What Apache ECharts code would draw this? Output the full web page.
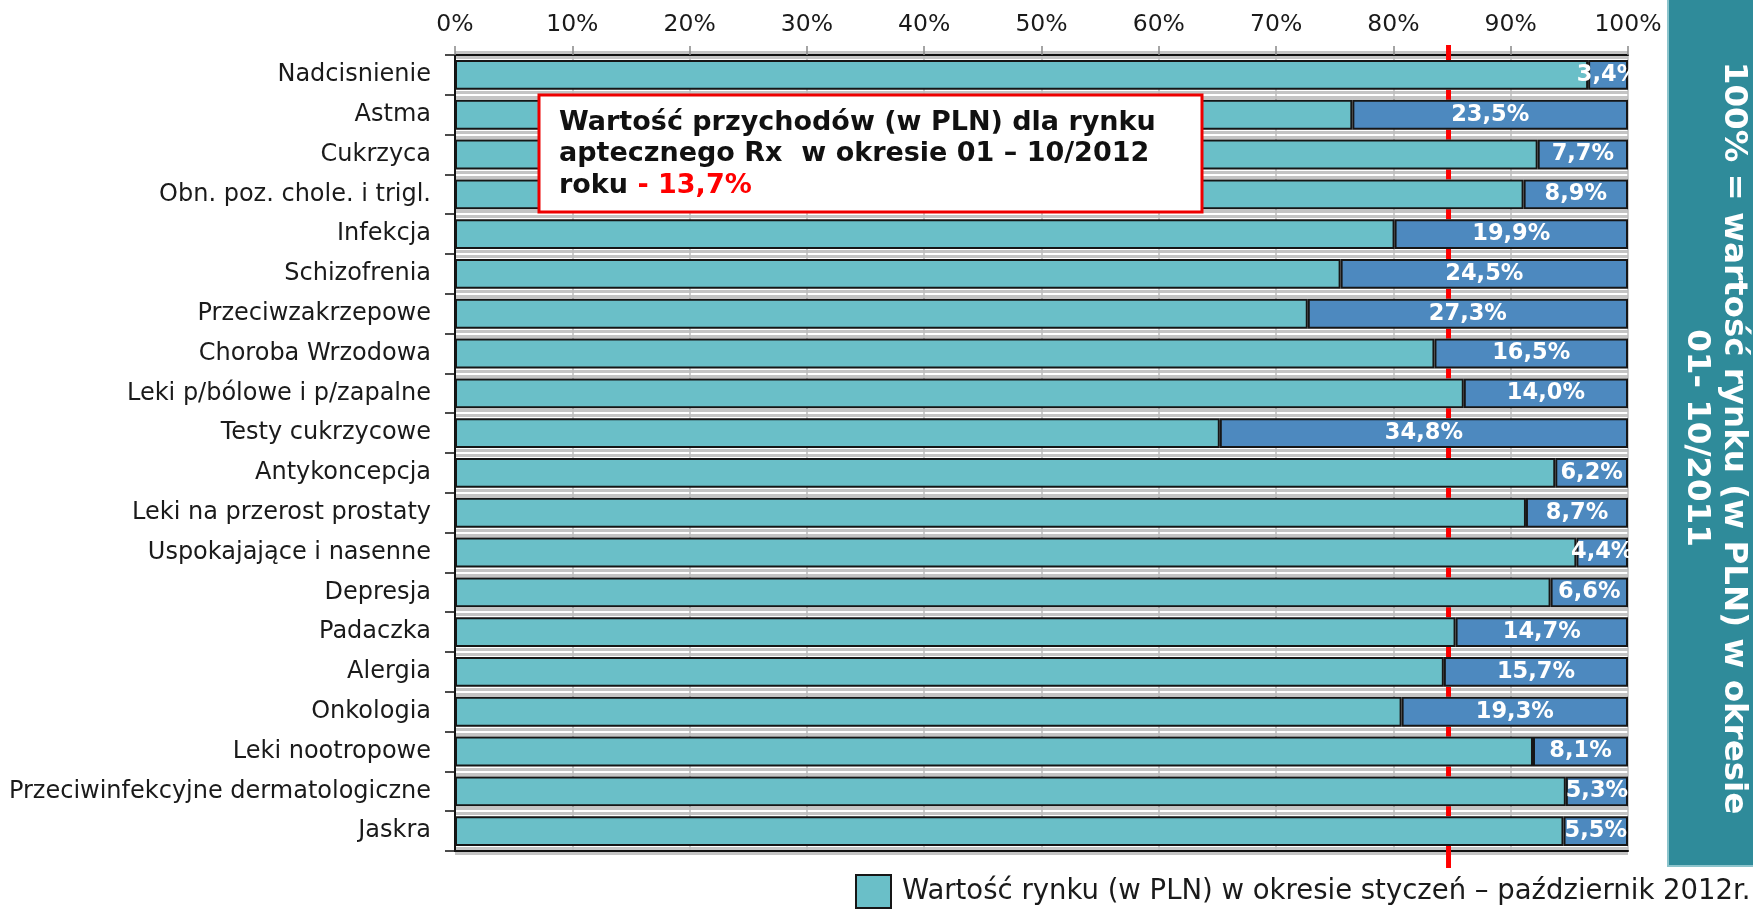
<!DOCTYPE html>
<html>
<head>
<meta charset="utf-8">
<script src="https://cdn.jsdelivr.net/npm/echarts@6/dist/echarts.min.js"></script>
<style>
html,body{margin:0;padding:0;background:#fff;}
#c{width:1753px;height:910px;}
</style>
</head>
<body>
<div id="c"></div>
<script>
const categories = ['Nadcisnienie','Astma','Cukrzyca','Obn. poz. chole. i trigl.','Infekcja','Schizofrenia','Przeciwzakrzepowe','Choroba Wrzodowa','Leki p/bólowe i p/zapalne','Testy cukrzycowe','Antykoncepcja','Leki na przerost prostaty','Uspokajające i nasenne','Depresja','Padaczka','Alergia','Onkologia','Leki nootropowe','Przeciwinfekcyjne dermatologiczne','Jaskra'];
const value2012 = [96.6,76.5,92.3,91.1,80.1,75.5,72.7,83.5,86.0,65.2,93.8,91.3,95.6,93.4,85.3,84.3,80.7,91.9,94.7,94.5];
const decline = [3.4,23.5,7.7,8.9,19.9,24.5,27.3,16.5,14.0,34.8,6.2,8.7,4.4,6.6,14.7,15.7,19.3,8.1,5.3,5.5];
const xTicks = [0,10,20,30,40,50,60,70,80,90,100];
const thresholdLine = 84.7;
const legendName = 'Wartość rynku (w PLN) w okresie styczeń – październik 2012r.';

const FONT = 'DejaVu Sans';
const BAR_GAP = 0.25;
const chart = echarts.init(document.getElementById('c'), null, {renderer:'canvas'});

const catAxisBase = {
  type:'category', data:categories, inverse:true
};

// red reference line: visible only in the gaps between bars (it sits behind them)
const thresholdData = categories.map(c => [thresholdLine, c]);

const option = {
  animation:false,
  textStyle:{fontFamily:FONT},
  grid:{left:455, top:55, width:1173, height:796, containLabel:false},
  legend:{
    left:850, top:869, itemWidth:35, itemHeight:33, icon:'rect',
    data:[legendName],
    textStyle:{fontFamily:FONT, fontSize:27.5, color:'#1a1a1a', padding:[0,0,0,6]}
  },
  xAxis:[{
    type:'value', position:'top', min:xTicks[0], max:xTicks[xTicks.length-1], interval:10,
    axisLine:{show:true, lineStyle:{color:'#111', width:2}},
    axisTick:{show:true, length:9, lineStyle:{color:'#888', width:1.5}},
    axisLabel:{formatter:'{value}%', fontFamily:FONT, fontSize:23.5, color:'#1a1a1a', margin:18},
    splitLine:{show:true, lineStyle:{color:'#bdbdbd', width:1.5}}
  },{
    type:'value', position:'bottom', min:0, max:100, interval:10,
    axisLine:{show:true, onZero:false, lineStyle:{color:'#111', width:2}},
    axisTick:{show:false}, axisLabel:{show:false}, splitLine:{show:false}
  }],
  yAxis:[Object.assign({}, catAxisBase, {
    position:'left',
    axisLine:{show:true, lineStyle:{color:'#111', width:2}},
    axisTick:{show:true, length:10, lineStyle:{color:'#111', width:1.5}},
    axisLabel:{fontFamily:FONT, fontSize:24, color:'#1a1a1a', margin:24},
    splitLine:{show:true, lineStyle:{color:'#c4c4c4', width:8}}
  }), Object.assign({}, catAxisBase, {
    position:'right',
    axisLine:{show:true, lineStyle:{color:'#111', width:2}},
    axisTick:{show:false}, axisLabel:{show:false},
    splitLine:{show:true, lineStyle:{color:'#ffffff', width:2}}
  })],
  series:[{
    name:'Próg', type:'custom', z:1, silent:true, clip:false,
    data:thresholdData,
    encode:{x:0, y:1},
    renderItem:function(params, api){
      const cs = params.coordSys;
      const p = api.coord([api.value(0), api.value(1)]);
      const band = api.size([0, 1])[1];
      const halfBar = band * (1 - BAR_GAP) / 2;
      const children = [];
      let y1 = p[1] + halfBar;
      let y2 = p[1] + band - halfBar;
      if (params.dataIndex === categories.length - 1) y2 = cs.y + cs.height + 17;
      children.push({type:'line', shape:{x1:p[0], y1:y1, x2:p[0], y2:y2}, style:{stroke:'#ff0000', lineWidth:5}});
      if (params.dataIndex === 0) {
        children.push({type:'line', shape:{x1:p[0], y1:cs.y - 10, x2:p[0], y2:p[1] - halfBar}, style:{stroke:'#ff0000', lineWidth:5}});
      }
      return {type:'group', children:children};
    }
  },{
    name:legendName, type:'bar', stack:'s', data:value2012, z:3,
    barCategoryGap:(BAR_GAP*100)+'%',
    itemStyle:{color:'#6abfc8', borderColor:'#161616', borderWidth:2}
  },{
    name:'Spadek', type:'bar', stack:'s', data:decline, z:3,
    barCategoryGap:(BAR_GAP*100)+'%',
    itemStyle:{color:'#4d89bf', borderColor:'#161616', borderWidth:2},
    label:{show:true, position:'inside', color:'#fff', fontFamily:FONT, fontWeight:'bold', fontSize:22.5,
      formatter:p => p.value.toFixed(1).replace('.', ',') + '%'}
  }],
  graphic:[
    {type:'rect', z:10, shape:{x:539, y:95, width:663, height:117},
      style:{fill:'#fff', stroke:'#ee0000', lineWidth:3}},
    {type:'text', z:11, x:559, y:107,
      style:{
        text:'{b|Wartość przychodów (w PLN) dla rynku}\n{b|aptecznego Rx  w okresie 01 – 10/2012}\n{b|roku }{r|- 13,7%}',
        rich:{
          b:{fontFamily:FONT, fontWeight:'bold', fontSize:27, fill:'#111', lineHeight:31.5},
          r:{fontFamily:FONT, fontWeight:'bold', fontSize:27, fill:'#ff0000', lineHeight:31.5}
        }
      }},
    {type:'rect', z:10, shape:{x:1668, y:-4, width:100, height:870},
      style:{fill:'#2f8b9a', stroke:'#8cc4cc', lineWidth:2}},
    {type:'text', z:11, x:1715, y:438, rotation:-Math.PI/2,
      style:{text:'100% = wartość rynku (w PLN) w okresie\n01- 10/2011', align:'center', verticalAlign:'middle',
        fontFamily:FONT, fontWeight:'bold', fontSize:32.5, lineHeight:37, fill:'#fff'}}
  ]
};
chart.setOption(option);
</script>
</body>
</html>
